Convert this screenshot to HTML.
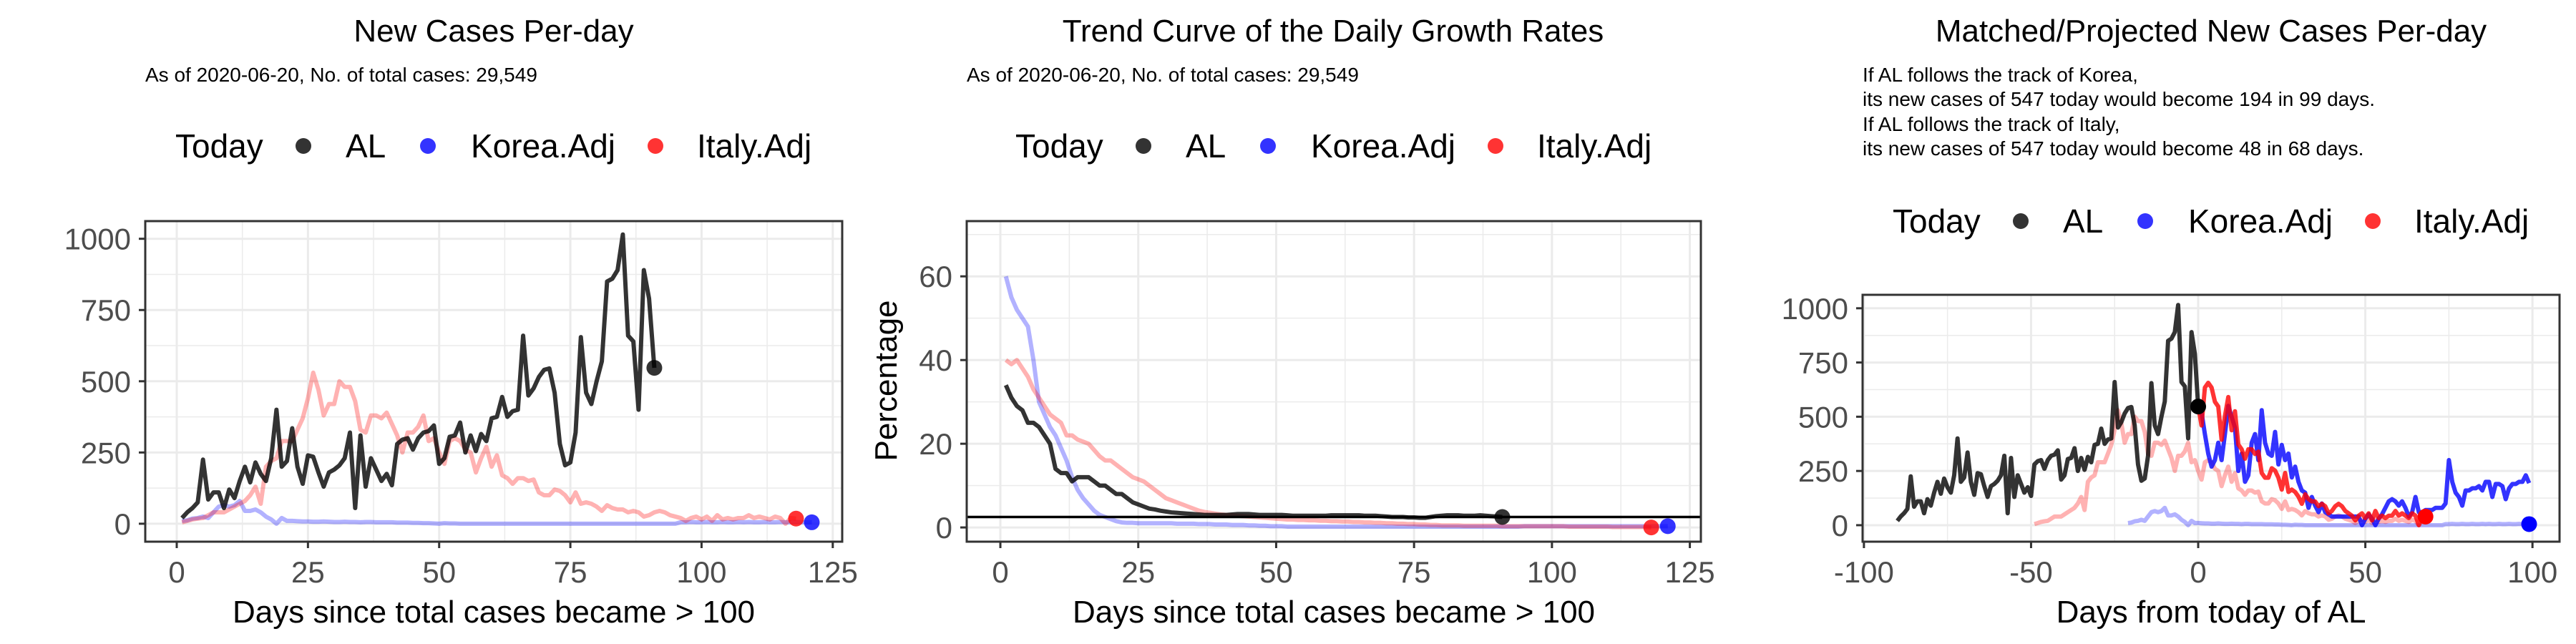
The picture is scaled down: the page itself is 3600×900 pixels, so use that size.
<!DOCTYPE html>
<html><head><meta charset="utf-8"><style>
html,body{margin:0;padding:0;background:#fff}
svg{display:block;font-family:"Liberation Sans",Arial,sans-serif}
</style></head><body>
<svg id="chart" width="3600" height="900" viewBox="0 0 3600 900" xmlns="http://www.w3.org/2000/svg">
<rect width="3600" height="900" fill="#fff"/>
<text x="690" y="58" font-size="44" text-anchor="middle">New Cases Per-day</text>
<text x="203" y="114" font-size="28">As of 2020-06-20, No. of total cases: 29,549</text>
<text x="1863" y="58" font-size="44" text-anchor="middle">Trend Curve of the Daily Growth Rates</text>
<text x="1351" y="114" font-size="28">As of 2020-06-20, No. of total cases: 29,549</text>
<text x="3090" y="58" font-size="44" text-anchor="middle">Matched/Projected New Cases Per-day</text>
<g font-size="28">
<text x="2603" y="114">If AL follows the track of Korea,</text>
<text x="2603" y="148">its new cases of 547 today would become 194 in 99 days.</text>
<text x="2603" y="183">If AL follows the track of Italy,</text>
<text x="2603" y="217">its new cases of 547 today would become 48 in 68 days.</text>
</g>
</svg>
<script>
// ---- data ----
const alNew = [20,40,55,75,225,85,110,110,55,120,90,150,200,145,215,175,150,230,400,200,220,335,200,140,240,235,180,130,180,190,205,230,320,55,310,130,230,190,150,175,135,280,295,300,260,300,320,325,345,210,230,305,310,355,250,310,255,315,290,370,375,445,375,395,400,660,450,475,515,540,545,460,280,205,215,320,655,460,420,500,570,850,860,890,1015,660,640,400,890,790,547];
const italyNew = [5,10,15,18,20,30,40,40,40,50,60,70,80,100,130,70,200,220,230,290,290,290,330,370,440,530,470,380,420,420,500,480,480,430,330,320,380,380,370,390,350,310,250,320,320,340,380,290,300,250,210,290,300,290,260,250,180,230,270,200,240,170,160,140,160,160,150,155,110,100,100,120,115,100,75,110,70,75,70,60,45,65,55,50,50,40,45,40,25,30,40,45,40,30,25,20,10,20,25,15,25,10,30,15,20,15,20,20,30,20,25,20,15,25,20,0,20,18];
const koreaNew = [10,12,18,20,25,20,40,60,65,60,65,80,45,45,50,40,25,15,0,20,10,10,9,8,8,7,7,8,7,6,6,7,6,6,5,6,6,5,5,5,5,4,4,4,3,3,2,2,1,0,2,1,1,0,0,0,0,0,0,0,0,0,0,0,0,0,0,0,0,0,0,0,0,0,0,0,0,0,0,0,0,0,0,0,0,0,0,0,0,0,0,0,0,0,0,5,5,6,5,5,6,5,5,6,5,5,6,5,6,5,5,6,5,5,6,5,5,6,5,5,5];
const alRate = [34,31,29,28,25,25,24,22,20,14,13,13,11,12,12,12,11,10,10,9,8,8,7,6,5.5,5,4.5,4.3,4,3.8,3.6,3.5,3.4,3.3,3.2,3.1,3,3,3,3,3,3.1,3.2,3.2,3.2,3.1,3,3,3,3,3,2.9,2.8,2.8,2.8,2.8,2.8,2.8,2.8,2.9,2.9,2.9,2.9,2.9,2.9,2.8,2.8,2.8,2.7,2.6,2.5,2.5,2.5,2.4,2.4,2.3,2.3,2.5,2.7,2.8,2.9,2.9,2.9,2.8,2.8,2.8,2.9,2.8,2.7,2.6,2.5];
const koreaRate = [60,55,52,50,48,40,30,27,24,22,19,16,12,9,7,5.5,4,3,2.5,2,1.5,1.2,1.1,1.1,1,1,1,1,1,1,1,0.9,0.9,0.9,0.9,0.8,0.8,0.8,0.7,0.7,0.7,0.6,0.6,0.6,0.5,0.5,0.4,0.4,0.3,0.3,0.3,0.2,0.2,0.2,0.2,0.2,0.2,0.2,0.2,0.2,0.2,0.2,0.2,0.2,0.2,0.2,0.2,0.2,0.2,0.2,0.2,0.2,0.2,0.2,0.2,0.2,0.2,0.2,0.2,0.2,0.2,0.2,0.2,0.2,0.2,0.2,0.2,0.2,0.2,0.2,0.2,0.2,0.2,0.2,0.3,0.3,0.3,0.3,0.3,0.3,0.3,0.3,0.3,0.3,0.3,0.3,0.3,0.3,0.3,0.3,0.3,0.3,0.3,0.3,0.3,0.3,0.3,0.3,0.3,0.3,0.3];
const italyRate = [40,39,40,38,36,33,31,29,27,26,25,22,22,21,20.5,20,18.5,17,16,16,15,14,13,12,11.5,11,10,9,8,7,6.5,6,5.5,5,4.5,4,3.7,3.5,3.3,3.1,3,2.9,2.8,2.7,2.6,2.5,2.4,2.3,2.2,2.1,2,1.9,1.9,1.8,1.8,1.7,1.7,1.6,1.6,1.5,1.5,1.4,1.4,1.3,1.3,1.2,1.2,1.1,1.1,1,1,0.9,0.9,0.8,0.8,0.7,0.7,0.6,0.6,0.5,0.5,0.5,0.5,0.4,0.4,0.4,0.4,0.4,0.4,0.4,0.3,0.3,0.3,0.3,0.3,0.3,0.3,0.3,0.3,0.3,0.3,0.3,0.2,0.2,0.2,0.2,0.2,0.2,0.2,0.2,0.1,0.1,0.1,0.1,0.1,0.1,0.1,0];
const koreaProj = [547,520,420,330,270,300,380,300,420,550,500,450,250,330,200,230,380,420,300,530,380,330,320,430,280,370,300,330,220,270,200,160,150,80,130,90,60,100,60,50,40,40,40,40,40,40,40,40,40,0,30,50,30,0,30,50,80,110,120,110,90,110,80,40,60,130,60,60,70,70,70,80,80,80,100,300,200,150,130,90,160,160,170,170,180,160,200,200,130,190,190,180,120,170,190,190,200,200,230,194];
const refLine = [2.5];
const alToday = [547];
const italyMatchDay = [50];
const koreaShift = [-22];
const italyShift = [-50];
const xTicks1 = [0,25,50,75,100,125];
const yTicks1 = [0,250,500,750,1000];
const yTicks2 = [0,20,40,60];
const xTicks3 = [-100,-50,0,50,100];

const NS = "http://www.w3.org/2000/svg";
const svg = document.getElementById('chart');
function el(tag, attrs, parent){const e=document.createElementNS(NS,tag);for(const k in attrs)e.setAttribute(k,attrs[k]);(parent||svg).appendChild(e);return e;}
function scale(d0,d1,r0,r1){return v=>r0+(v-d0)*(r1-r0)/(d1-d0);}

function legend(cx, cy){
  const g = el('g',{});
  
  
  const t = el('text',{x:cx,y:cy+16,'font-size':46},g); t.textContent='Today';
  const items=[['AL','#000',179,238],['Korea.Adj','#00f',353,413],['Italy.Adj','#f00',671,729]];
  items.forEach(it=>{
    const c = el('circle',{cx:cx+it[2],cy:cy,r:11,fill:it[1],'fill-opacity':0.8},g);
    
    
    const tx = el('text',{x:cx+it[3],y:cy+16,'font-size':46},g); tx.textContent=it[0];
    
    
  });
}

function panel(p){
  const sx=scale(p.xd[0],p.xd[1],p.L,p.R), sy=scale(p.yd[0],p.yd[1],p.B,p.T);
  const g=el('g',{});
  
  
  const cp=el('clipPath',{id:p.name+'-clip'},g);
  el('rect',{x:p.L,y:p.T,width:p.R-p.L,height:p.B-p.T},cp);
  p.xMinor.forEach(v=>el('line',{x1:sx(v),x2:sx(v),y1:p.T,y2:p.B,stroke:'#ebebeb','stroke-width':1.5},g));
  p.yMinor.forEach(v=>el('line',{y1:sy(v),y2:sy(v),x1:p.L,x2:p.R,stroke:'#ebebeb','stroke-width':1.5},g));
  p.xt.forEach(v=>el('line',{x1:sx(v),x2:sx(v),y1:p.T,y2:p.B,stroke:'#ebebeb','stroke-width':3},g));
  p.yt.forEach(v=>el('line',{y1:sy(v),y2:sy(v),x1:p.L,x2:p.R,stroke:'#ebebeb','stroke-width':3},g));
  const pg=el('g',{'clip-path':'url(#'+p.name+'-clip)'},g);
  p.series.forEach(s=>{
    const pts=s.vals.map((v,i)=>sx(s.x0+i)+','+sy(v)).join(' ');
    const pl=el('polyline',{points:pts,fill:'none',stroke:s.color,'stroke-opacity':s.op,'stroke-width':6,'stroke-linejoin':'round'},pg);
    
    
  });
  (p.hlines||[]).forEach(v=>{
    const ln=el('line',{x1:p.L,x2:p.R,y1:sy(v),y2:sy(v),stroke:'#000','stroke-width':3.5},pg);
    
    
  });
  p.dots.forEach(d=>{
    const c=el('circle',{cx:sx(d.x),cy:sy(d.y),r:11,fill:d.color,'fill-opacity':d.op},pg);
    
    
  });
  el('rect',{x:p.L,y:p.T,width:p.R-p.L,height:p.B-p.T,fill:'none',stroke:'#333','stroke-width':3},g);
  p.xt.forEach(v=>{
    el('line',{x1:sx(v),x2:sx(v),y1:p.B,y2:p.B+9,stroke:'#333','stroke-width':3},g);
    const t=el('text',{x:sx(v),y:p.B+57,'font-size':42,fill:'#4d4d4d','text-anchor':'middle'},g); t.textContent=v;
    
    
  });
  p.yt.forEach(v=>{
    el('line',{x1:p.L-9,x2:p.L,y1:sy(v),y2:sy(v),stroke:'#333','stroke-width':3},g);
    const t=el('text',{x:p.L-20,y:sy(v)+15,'font-size':42,fill:'#4d4d4d','text-anchor':'end'},g); t.textContent=v;
    
    
  });
  const xt=el('text',{x:(p.L+p.R)/2,y:870,'font-size':44,'text-anchor':'middle'},g); xt.textContent=p.xTitle;
  
  
  if(p.yTitle){
    const yt=el('text',{x:0,y:0,'font-size':44,'text-anchor':'middle',transform:'translate(1253,532) rotate(-90)'},g); yt.textContent=p.yTitle;
    
    
  }
}

legend(245,204); legend(1419,204); legend(2645,309);

panel({name:'panel1-new-cases',L:203,R:1177,T:309,B:757,xd:[-6,126.8],yd:[-63,1062],
  xt:xTicks1,yt:yTicks1,xMinor:[12.5,37.5,62.5,87.5,112.5],yMinor:[125,375,625,875],
  xTitle:'Days since total cases became > 100',
  series:[
    {name:'korea-adj-line',vals:koreaNew,x0:1,color:'#00f',op:0.3},
    {name:'italy-adj-line',vals:italyNew,x0:1,color:'#f00',op:0.3},
    {name:'al-line',vals:alNew,x0:1,color:'#000',op:0.8}],
  dots:[{name:'al-today-dot',x:alNew.length,y:alNew[alNew.length-1],color:'#000',op:0.8},
        {name:'italy-today-dot',x:italyNew.length,y:italyNew[italyNew.length-1],color:'#f00',op:0.8},
        {name:'korea-today-dot',x:koreaNew.length,y:koreaNew[koreaNew.length-1],color:'#00f',op:0.8}]});

panel({name:'panel2-growth-rates',L:1351,R:2377,T:309,B:757,xd:[-6.1,127],yd:[-3.4,73.2],
  xt:xTicks1,yt:yTicks2,xMinor:[12.5,37.5,62.5,87.5,112.5],yMinor:[10,30,50,70],
  xTitle:'Days since total cases became > 100',yTitle:'Percentage',hlines:refLine,
  series:[
    {name:'korea-rate-line',vals:koreaRate,x0:1,color:'#00f',op:0.3},
    {name:'italy-rate-line',vals:italyRate,x0:1,color:'#f00',op:0.3},
    {name:'al-rate-line',vals:alRate,x0:1,color:'#000',op:0.8}],
  dots:[{name:'al-rate-today-dot',x:alRate.length,y:alRate[alRate.length-1],color:'#000',op:0.8},
        {name:'italy-rate-today-dot',x:italyRate.length,y:italyRate[italyRate.length-1],color:'#f00',op:0.8},
        {name:'korea-rate-today-dot',x:koreaRate.length,y:koreaRate[koreaRate.length-1],color:'#00f',op:0.8}]});

const itScale = alToday[0]/italyNew[italyMatchDay[0]-1];
const italyProj = italyNew.slice(italyMatchDay[0]-1).map(v=>v*itScale);
panel({name:'panel3-projected',L:2603,R:3577,T:412,B:757,xd:[-100.4,108.1],yd:[-76,1062],
  xt:xTicks3,yt:yTicks1,xMinor:[-75,-25,25,75],yMinor:[125,375,625,875],
  xTitle:'Days from today of AL',
  series:[
    {name:'korea-matched-line',vals:koreaNew,x0:1+koreaShift[0],color:'#00f',op:0.3},
    {name:'italy-matched-line',vals:italyNew,x0:1+italyShift[0],color:'#f00',op:0.3},
    {name:'al-history-line',vals:alNew,x0:1-alNew.length,color:'#000',op:0.8},
    {name:'korea-projection-line',vals:koreaProj,x0:0,color:'#00f',op:0.8},
    {name:'italy-projection-line',vals:italyProj,x0:0,color:'#f00',op:0.8}],
  dots:[{name:'al-today-dot',x:0,y:alToday[0],color:'#000',op:1},
        {name:'italy-projected-dot',x:italyProj.length-1,y:italyProj[italyProj.length-1],color:'#f00',op:1},
        {name:'korea-projected-dot',x:99,y:5,color:'#00f',op:1}]});
</script>
</body></html>
